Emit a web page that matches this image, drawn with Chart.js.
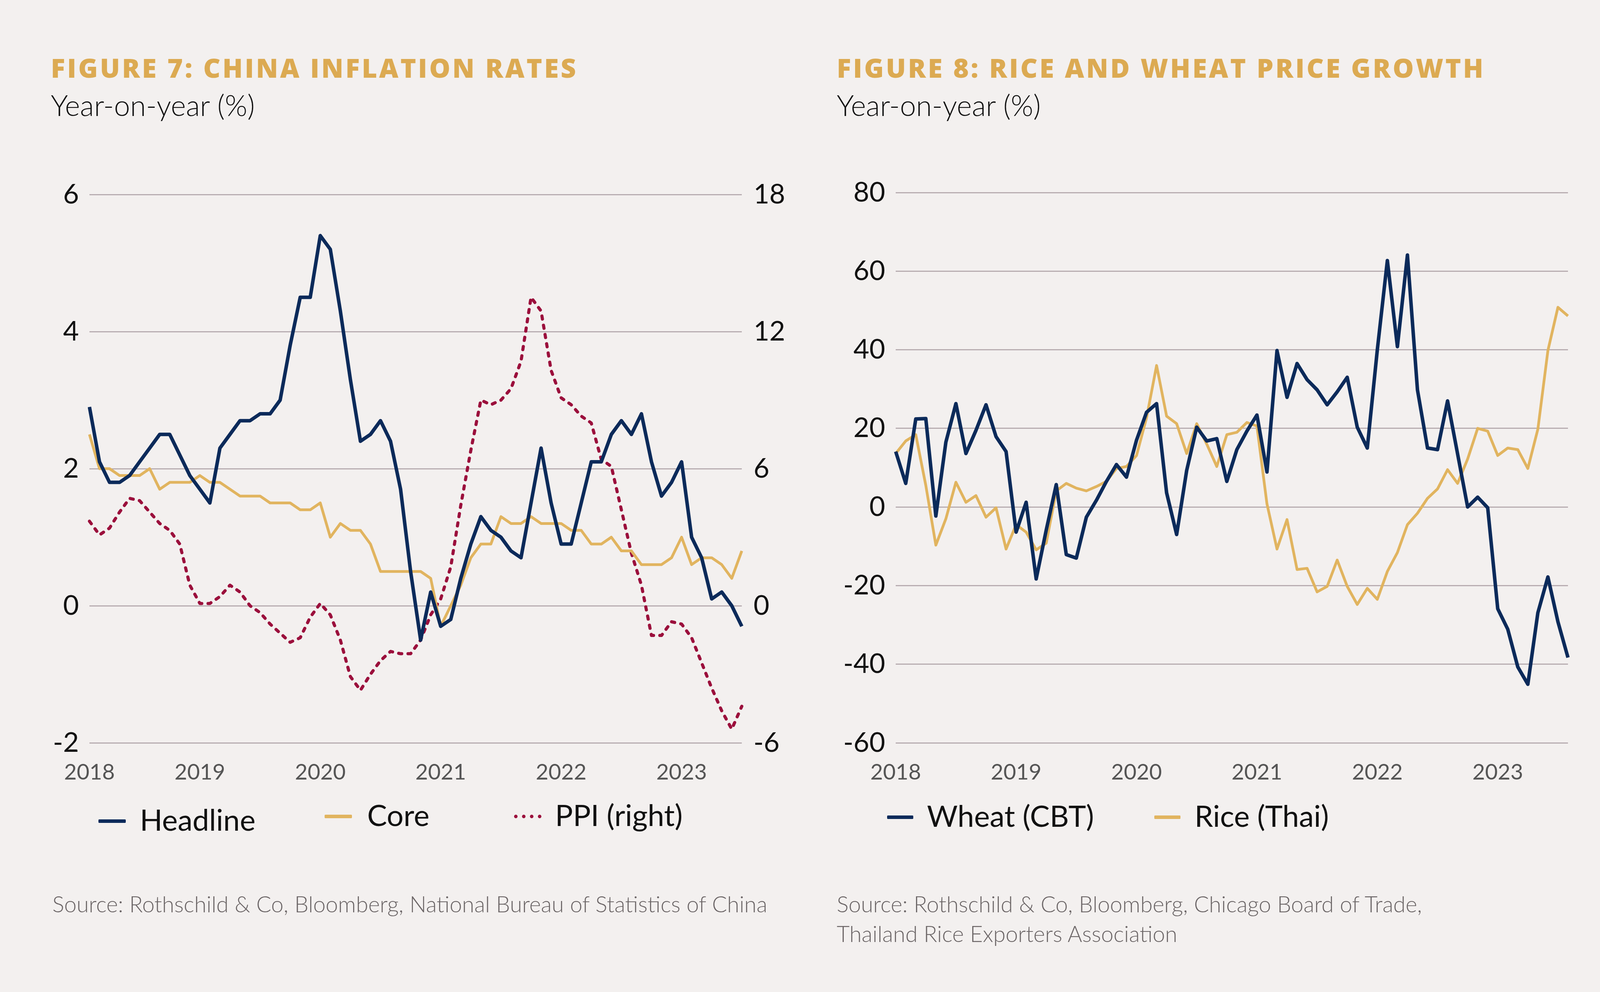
<!DOCTYPE html>
<html>
<head>
<meta charset="utf-8">
<script src="https://cdn.jsdelivr.net/npm/chart.js@4.4.1/dist/chart.umd.min.js"></script>
<style>
  body { margin: 0; width: 4224px; height: 2540px; background: #f3f0ef; position: relative; overflow: hidden; font-family: Lato, "Noto Sans", sans-serif; }
  .title { position: absolute; font-family: "Open Sans", sans-serif; font-weight: 800; font-size: 68px; letter-spacing: 5px; color: #dcaa52; line-height: 1; white-space: nowrap; }
  .sub { position: absolute; font-size: 74px; color: #111; line-height: 1; white-space: nowrap; font-weight: 300; }
  .leg { position: absolute; font-size: 76px; color: #111; line-height: 1; white-space: nowrap; }
  .mk { position: absolute; height: 9px; border-radius: 2px; }
  .src { position: absolute; font-size: 57px; color: #6b6566; line-height: 76px; white-space: nowrap; font-weight: 300; }
  canvas { position: absolute; }
</style>
</head>
<body>

<div class="title" style="left:130px; top:139px;">FIGURE 7: CHINA INFLATION RATES</div>
<div class="sub" style="left:130px; top:232px;">Year-on-year (%)</div>
<div class="title" style="left:2142px; top:139px;">FIGURE 8: RICE AND WHEAT PRICE GROWTH</div>
<div class="sub" style="left:2142px; top:232px;">Year-on-year (%)</div>

<canvas id="inflationChart" width="1910" height="1582" style="left:100px; top:420px;"></canvas>
<canvas id="grainChart" width="1910" height="1582" style="left:2150px; top:420px;"></canvas>

<div class="mk" style="left:252px; top:2098px; width:70px; background:#0b2a5a;"></div>
<div class="leg" style="left:358px; top:2060px;">Headline</div>
<div class="mk" style="left:831px; top:2086px; width:70px; background:#e1b45f;"></div>
<div class="leg" style="left:940px; top:2048px;">Core</div>
<div class="mk" style="left:1316px; top:2086px; width:70px; height:0; border-top:9px dotted #9b0f3c; border-radius:0;"></div>
<div class="leg" style="left:1421px; top:2048px;">PPI (right)</div>

<div class="mk" style="left:2271px; top:2088px; width:67px; background:#0b2a5a;"></div>
<div class="leg" style="left:2373px; top:2050px;">Wheat (CBT)</div>
<div class="mk" style="left:2955px; top:2088px; width:67px; background:#e1b45f;"></div>
<div class="leg" style="left:3058px; top:2050px;">Rice (Thai)</div>

<div class="src" style="left:134px; top:2276px;">Source: Rothschild &amp; Co, Bloomberg, National Bureau of Statistics of China</div>
<div class="src" style="left:2142px; top:2276px;">Source: Rothschild &amp; Co, Bloomberg, Chicago Board of Trade,<br>Thailand Rice Exporters Association</div>

<script>
// Figure 7: China CPI (headline, core) and PPI, Feb 2018 - Jul 2023
const chinaMonths = [
  '2018-02','2018-03','2018-04','2018-05','2018-06','2018-07','2018-08','2018-09','2018-10','2018-11','2018-12',
  '2019-01','2019-02','2019-03','2019-04','2019-05','2019-06','2019-07','2019-08','2019-09','2019-10','2019-11','2019-12',
  '2020-01','2020-02','2020-03','2020-04','2020-05','2020-06','2020-07','2020-08','2020-09','2020-10','2020-11','2020-12',
  '2021-01','2021-02','2021-03','2021-04','2021-05','2021-06','2021-07','2021-08','2021-09','2021-10','2021-11','2021-12',
  '2022-01','2022-02','2022-03','2022-04','2022-05','2022-06','2022-07','2022-08','2022-09','2022-10','2022-11','2022-12',
  '2023-01','2023-02','2023-03','2023-04','2023-05','2023-06','2023-07'
];
const headlineCpi = [
  2.9, 2.1, 1.8, 1.8, 1.9, 2.1, 2.3, 2.5, 2.5, 2.2, 1.9,
  1.7, 1.5, 2.3, 2.5, 2.7, 2.7, 2.8, 2.8, 3.0, 3.8, 4.5, 4.5,
  5.4, 5.2, 4.3, 3.3, 2.4, 2.5, 2.7, 2.4, 1.7, 0.5, -0.5, 0.2,
  -0.3, -0.2, 0.4, 0.9, 1.3, 1.1, 1.0, 0.8, 0.7, 1.5, 2.3, 1.5,
  0.9, 0.9, 1.5, 2.1, 2.1, 2.5, 2.7, 2.5, 2.8, 2.1, 1.6, 1.8,
  2.1, 1.0, 0.7, 0.1, 0.2, 0.0, -0.3
];
const coreCpi = [
  2.5, 2.0, 2.0, 1.9, 1.9, 1.9, 2.0, 1.7, 1.8, 1.8, 1.8,
  1.9, 1.8, 1.8, 1.7, 1.6, 1.6, 1.6, 1.5, 1.5, 1.5, 1.4, 1.4,
  1.5, 1.0, 1.2, 1.1, 1.1, 0.9, 0.5, 0.5, 0.5, 0.5, 0.5, 0.4,
  -0.3, 0.0, 0.3, 0.7, 0.9, 0.9, 1.3, 1.2, 1.2, 1.3, 1.2, 1.2,
  1.2, 1.1, 1.1, 0.9, 0.9, 1.0, 0.8, 0.8, 0.6, 0.6, 0.6, 0.7,
  1.0, 0.6, 0.7, 0.7, 0.6, 0.4, 0.8
];
const ppi = [
  3.7, 3.1, 3.4, 4.1, 4.7, 4.6, 4.1, 3.6, 3.3, 2.7, 0.9,
  0.1, 0.1, 0.4, 0.9, 0.6, 0.0, -0.3, -0.8, -1.2, -1.6, -1.4, -0.5,
  0.1, -0.4, -1.5, -3.1, -3.7, -3.0, -2.4, -2.0, -2.1, -2.1, -1.5, -0.4,
  0.3, 1.7, 4.4, 6.8, 9.0, 8.8, 9.0, 9.5, 10.7, 13.5, 12.9, 10.3,
  9.1, 8.8, 8.3, 8.0, 6.4, 6.1, 4.2, 2.3, 0.9, -1.3, -1.3, -0.7,
  -0.8, -1.4, -2.5, -3.6, -4.6, -5.4, -4.4
];

// Figure 8: wheat (CBT) and Thai rice price growth, Jan 2018 - Aug 2023
const grainMonths = [
  '2018-01','2018-02','2018-03','2018-04','2018-05','2018-06','2018-07','2018-08','2018-09','2018-10','2018-11','2018-12',
  '2019-01','2019-02','2019-03','2019-04','2019-05','2019-06','2019-07','2019-08','2019-09','2019-10','2019-11','2019-12',
  '2020-01','2020-02','2020-03','2020-04','2020-05','2020-06','2020-07','2020-08','2020-09','2020-10','2020-11','2020-12',
  '2021-01','2021-02','2021-03','2021-04','2021-05','2021-06','2021-07','2021-08','2021-09','2021-10','2021-11','2021-12',
  '2022-01','2022-02','2022-03','2022-04','2022-05','2022-06','2022-07','2022-08','2022-09','2022-10','2022-11','2022-12',
  '2023-01','2023-02','2023-03','2023-04','2023-05','2023-06','2023-07','2023-08'
];
const wheat = [
  14.1, 6.0, 22.4, 22.5, -2.3, 16.5, 26.3, 13.6, 19.5, 26.0, 17.9, 14.1,
  -6.4, 1.2, -18.3, -5.9, 5.7, -12.1, -13.0, -2.6, 1.7, 6.5, 10.8, 7.6,
  17.0, 24.1, 26.3, 3.6, -7.0, 9.3, 20.3, 16.8, 17.4, 6.5, 14.6, 19.3,
  23.4, 8.9, 39.8, 27.9, 36.5, 32.4, 29.8, 26.0, 29.3, 33.0, 20.3, 15.0,
  40.0, 62.7, 40.8, 64.1, 29.8, 15.0, 14.6, 27.0, 13.5, 0.0, 2.5, -0.2,
  -25.9, -31.1, -40.7, -45.1, -26.9, -17.8, -29.2, -38.3
];
const rice = [
  13.6, 16.8, 18.4, 5.5, -9.7, -3.0, 6.3, 1.2, 2.9, -2.6, -0.2, -10.7,
  -4.5, -6.4, -10.9, -9.2, 4.1, 6.0, 4.8, 4.1, 5.2, 6.5, 9.8, 10.3,
  13.1, 22.7, 36.0, 23.1, 21.2, 13.6, 21.2, 16.0, 10.3, 18.4, 19.0, 21.5,
  20.6, 0.8, -10.7, -3.2, -15.9, -15.6, -21.6, -20.2, -13.5, -20.2, -24.8, -20.7,
  -23.5, -16.4, -11.6, -4.5, -1.6, 2.2, 4.6, 9.5, 6.0, 12.2, 20.0, 19.3,
  13.1, 15.0, 14.6, 9.8, 19.8, 39.8, 50.8, 48.6
];

const NAVY = '#0b2a5a';
const GOLD = '#e1b45f';
const CRIMSON = '#9b0f3c';
const GRID = '#b8adb1';

// only print the year at the first point and at each January
function yearTick(value, index) {
  const lab = this.getLabelForValue(value);
  return (index === 0 || lab.endsWith('-01')) ? lab.slice(0, 4) : '';
}

const xAxis = {
  type: 'category',
  offset: false,
  grid: { display: false },
  border: { display: false },
  ticks: {
    autoSkip: false, maxRotation: 0, padding: 34,
    color: '#555', font: { family: 'Lato', size: 56 },
    callback: yearTick
  },
  afterFit: s => { s.height = 100; }
};

const tickFont = { family: 'Lato', size: 70 };

new Chart(document.getElementById('inflationChart').getContext('2d'), {
  type: 'line',
  data: {
    labels: chinaMonths,
    datasets: [
      { label: 'Headline', data: headlineCpi, yAxisID: 'y', borderColor: NAVY, borderWidth: 9 },
      { label: 'Core', data: coreCpi, yAxisID: 'y', borderColor: GOLD, borderWidth: 7 },
      { label: 'PPI (right)', data: ppi, yAxisID: 'y1', borderColor: CRIMSON, borderWidth: 8,
        borderDash: [8, 16], borderCapStyle: 'round' }
    ]
  },
  options: {
    responsive: false,
    devicePixelRatio: 1,
    animation: false,
    elements: { point: { radius: 0 }, line: { tension: 0, borderJoinStyle: 'round' } },
    layout: { padding: { top: 78, right: 0, bottom: 0, left: 0 } },
    plugins: { legend: { display: false }, tooltip: { enabled: false } },
    scales: {
      x: xAxis,
      y: {
        position: 'left', min: -2, max: 6,
        ticks: { stepSize: 2, padding: 27, color: '#111', font: tickFont },
        grid: { color: GRID, lineWidth: 3, drawTicks: false },
        border: { display: false },
        afterFit: s => { s.width = 129; }
      },
      y1: {
        position: 'right', min: -6, max: 18,
        ticks: { stepSize: 6, padding: 22, color: '#111', font: tickFont },
        grid: { display: false },
        border: { display: false },
        afterFit: s => { s.width = 111; }
      }
    }
  }
});

new Chart(document.getElementById('grainChart').getContext('2d'), {
  type: 'line',
  data: {
    labels: grainMonths,
    datasets: [
      { label: 'Wheat (CBT)', data: wheat, borderColor: NAVY, borderWidth: 9 },
      { label: 'Rice (Thai)', data: rice, borderColor: GOLD, borderWidth: 7 }
    ]
  },
  options: {
    responsive: false,
    devicePixelRatio: 1,
    animation: false,
    elements: { point: { radius: 0 }, line: { tension: 0, borderJoinStyle: 'round' } },
    layout: { padding: { top: 73, right: 46, bottom: 0, left: 0 } },
    plugins: { legend: { display: false }, tooltip: { enabled: false } },
    scales: {
      x: xAxis,
      y: {
        min: -60, max: 80,
        ticks: { stepSize: 20, padding: 27, color: '#111', font: tickFont },
        grid: { color: GRID, lineWidth: 3, drawTicks: false },
        border: { display: false },
        afterFit: s => { s.width = 143; }
      }
    }
  }
});
</script>
</body>
</html>
